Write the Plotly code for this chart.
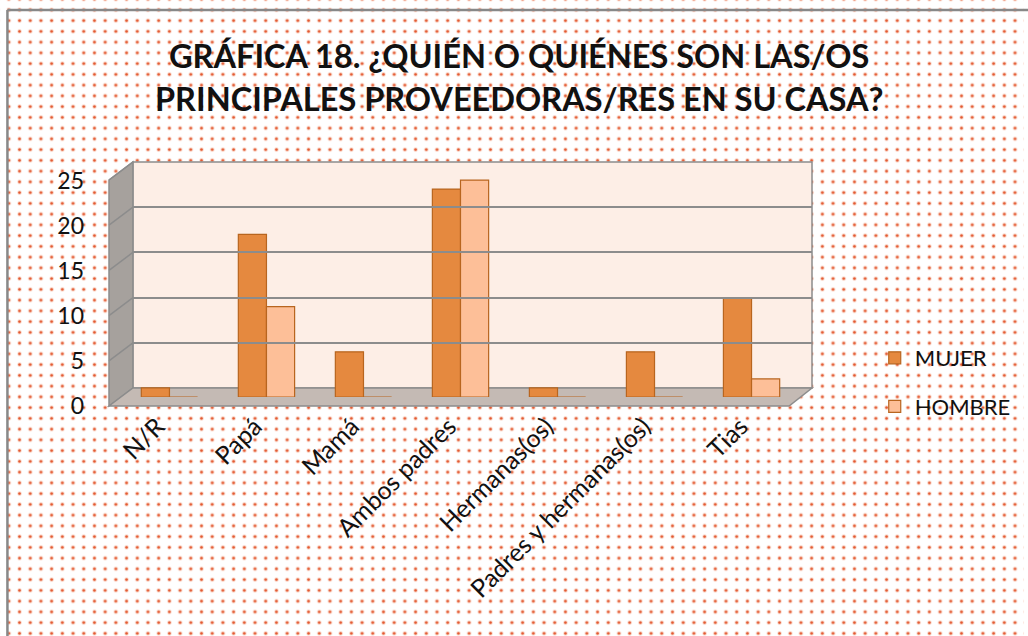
import plotly.graph_objects as go
import urllib.parse

categories = ["N/R", "Papá", "Mamá", "Ambos padres", "Hermanas(os)",
              "Padres y hermanas(os)", "Tias"]
mujer = [1, 18, 5, 23, 1, 5, 11]
hombre = [0, 10, 0, 24, 0, 0, 2]
series_names = ["MUJER", "HOMBRE"]
y_ticks = [0, 5, 10, 15, 20, 25]
title_lines = ["GRÁFICA 18. ¿QUIÉN O QUIÉNES SON LAS/OS",
               "PRINCIPALES PROVEEDORAS/RES EN SU CASA?"]

W, H = 1028, 636
L, R, T, B = 109, 815, 162, 407   # overall plot box in pixels
PW, PH = R - L, B - T


def px(x):
    return (x - L) / PW


def py(y):
    return (B - y) / PH


FONT = "Lato"
MUJER_C = "#e5893f"
HOMBRE_C = "#fdbf98"
EDGE = "#b8651f"

fig = go.Figure()

fig.add_trace(go.Bar(
    x=categories, y=mujer, name=series_names[0], xaxis="x", yaxis="y",
    marker=dict(color=MUJER_C, line=dict(color=EDGE, width=1.2)),
    legendgroup="a"))
fig.add_trace(go.Bar(
    x=categories, y=hombre, name=series_names[1], xaxis="x", yaxis="y",
    marker=dict(color=HOMBRE_C, line=dict(color=EDGE, width=1.2)),
    legendgroup="b"))
# invisible helpers to create back-wall and front-axis subplots
fig.add_trace(go.Scatter(x=categories, y=[None] * len(categories), xaxis="x2", yaxis="y2",
                         mode="markers", marker=dict(opacity=0), showlegend=False, hoverinfo="skip"))
fig.add_trace(go.Scatter(x=categories, y=[None] * len(categories), xaxis="x3", yaxis="y3",
                         mode="markers", marker=dict(opacity=0), showlegend=False, hoverinfo="skip"))

rng = [0, 25]
cat_range = [-0.5, len(categories) - 0.5]

# dotted paper background
svg = ("<svg xmlns='http://www.w3.org/2000/svg' width='1028' height='636'>"
       "<defs><pattern id='p' x='3' y='4.5' width='10.75' height='10.75' patternUnits='userSpaceOnUse'>"
       "<circle cx='5.4' cy='5.4' r='2.2' fill='#f9d3c4'/>"
       "<circle cx='5.4' cy='5.4' r='1.3' fill='#e2532a'/></pattern></defs>"
       "<rect width='1028' height='636' fill='white'/>"
       "<rect width='1028' height='636' fill='url(#p)'/></svg>")
src = "data:image/svg+xml;charset=utf-8," + urllib.parse.quote(svg)

shapes = [
    # back wall
    dict(type="rect", xref="x2 domain", yref="y2 domain", x0=0, x1=1, y0=0, y1=1,
         fillcolor="#fdeee6", line=dict(color="#8c8c8c", width=1.5), layer="below"),
    # left wall
    dict(type="path", xref="paper", yref="paper",
         path=f"M {px(109)},{py(180)} L {px(133)},{py(162)} L {px(133)},{py(388)} L {px(109)},{py(406)} Z",
         fillcolor="#a6a19d", line=dict(color="#8c8c8c", width=1.5), layer="below"),
    # floor
    dict(type="path", xref="paper", yref="paper",
         path=f"M {px(109)},{py(406)} L {px(133)},{py(388)} L {px(815)},{py(388)} L {px(792)},{py(406)} Z",
         fillcolor="#c4bab4", line=dict(color="#8c8c8c", width=1.5), layer="below"),
    # outer border (top and left)
    dict(type="line", xref="paper", yref="paper", x0=px(7), x1=px(1040), y0=py(10), y1=py(10),
         line=dict(color="#888888", width=2.5)),
    dict(type="line", xref="paper", yref="paper", x0=px(7), x1=px(7), y0=py(10), y1=py(660),
         line=dict(color="#888888", width=2.5)),
]
# diagonal grid lines on the left wall
for v in y_ticks[1:]:
    f = v / 25
    y_front = 406 - f * 226
    y_back = 388 - f * 226
    shapes.append(dict(type="line", xref="paper", yref="paper",
                       x0=px(109), y0=py(y_front), x1=px(133), y1=py(y_back),
                       line=dict(color="#8c8c8c", width=1.5), layer="below"))

annotations = [
    dict(text=title_lines[0], xref="paper", yref="paper", x=px(521), y=py(55),
         showarrow=False, font=dict(family=FONT, size=32.5, color="#111111", weight="bold"),
         xanchor="center", yanchor="middle"),
    dict(text=title_lines[1], xref="paper", yref="paper", x=px(521), y=py(98),
         showarrow=False, font=dict(family=FONT, size=32.5, color="#111111", weight="bold"),
         xanchor="center", yanchor="middle"),
]

fig.update_layout(
    width=W, height=H,
    margin=dict(l=L, r=W - R, t=T, b=H - B),
    paper_bgcolor="white", plot_bgcolor="rgba(0,0,0,0)",
    barmode="group", bargap=0.42, bargroupgap=0.0,
    font=dict(family=FONT, size=22, color="#111111"),
    images=[dict(source=src, xref="paper", yref="paper", x=px(0), y=py(0),
                 sizex=W / PW, sizey=H / PH, sizing="stretch", layer="below",
                 xanchor="left", yanchor="top")],
    shapes=shapes,
    annotations=annotations,
    # bars frame (middle depth)
    xaxis=dict(domain=[px(121), px(803)], range=cat_range, anchor="y",
               showticklabels=False, showgrid=False, zeroline=False, showline=False,
               categoryorder="array", categoryarray=categories),
    yaxis=dict(domain=[py(397), py(171)], range=rng, anchor="x",
               showticklabels=False, showgrid=False, zeroline=False, showline=False),
    # back wall frame (gridlines)
    xaxis2=dict(domain=[px(133), px(815)], range=cat_range, anchor="y2",
                showticklabels=False, showgrid=False, zeroline=False, showline=False,
                categoryorder="array", categoryarray=categories),
    yaxis2=dict(domain=[py(388), py(162)], range=rng, anchor="x2",
                tickvals=y_ticks, showticklabels=False, showgrid=True,
                gridcolor="#8c8c8c", gridwidth=1.5, zeroline=False, showline=False),
    # front frame (tick labels)
    xaxis3=dict(domain=[px(109), px(792)], range=cat_range, anchor="y3",
                categoryorder="array", categoryarray=categories,
                tickangle=-45, showgrid=False, zeroline=False, showline=False,
                ticks="", tickfont=dict(size=25, color="#111111")),
    yaxis3=dict(domain=[py(406), py(181)], range=rng, anchor="x3",
                tickvals=y_ticks, showgrid=False, zeroline=False, showline=False,
                ticks="", ticklabelstandoff=24, tickfont=dict(size=23, color="#111111")),
    legend=dict(x=px(878), y=py(337), xanchor="left", yanchor="top",
                bgcolor="rgba(0,0,0,0)", font=dict(size=22, color="#111111"),
                traceorder="grouped", tracegroupgap=17, itemwidth=30),
    showlegend=True,
)

fig.write_html("out.html", config={"displayModeBar": False},
               post_script="document.body.style.margin='0';")
